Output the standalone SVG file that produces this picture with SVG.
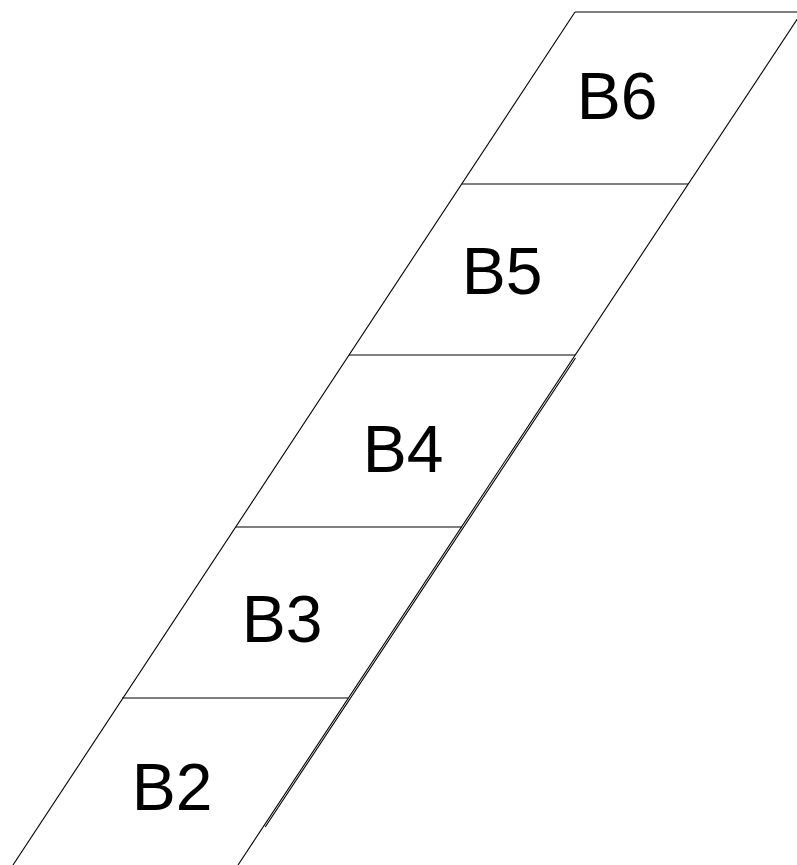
<svg xmlns="http://www.w3.org/2000/svg" width="797" height="865" viewBox="0 0 797 865">
<style>
.ln{stroke:#000;stroke-width:1.1;fill:none}
.lb{font-family:"Liberation Sans",Arial,sans-serif;font-size:66px;fill:#000;text-anchor:middle}
</style>
<rect width="797" height="865" fill="#fff"/>
<g id="outline">
<line class="ln" x1="575" y1="12" x2="797" y2="12"/>
<line class="ln" x1="575" y1="12" x2="13" y2="865"/>
<line class="ln" x1="802" y1="12" x2="238" y2="865"/>
<line class="ln" x1="575.5" y1="358" x2="265.2" y2="827"/>
</g>
<g id="dividers">
<line class="ln" x1="462" y1="184" x2="688" y2="184"/>
<line class="ln" x1="349" y1="355" x2="575" y2="355"/>
<line class="ln" x1="236" y1="527" x2="462" y2="527"/>
<line class="ln" x1="122" y1="698" x2="348" y2="698"/>
</g>
<g id="B6"><text class="lb" x="617" y="119">B6</text></g>
<g id="B5"><text class="lb" x="502" y="294">B5</text></g>
<g id="B4"><text class="lb" x="403" y="472">B4</text></g>
<g id="B3"><text class="lb" x="282" y="642">B3</text></g>
<g id="B2"><text class="lb" x="172" y="810">B2</text></g>
</svg>
